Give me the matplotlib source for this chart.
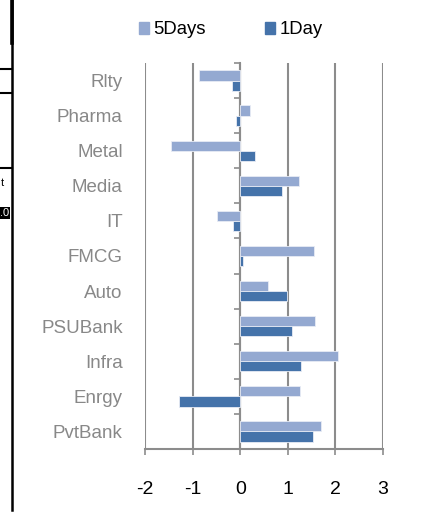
import matplotlib
matplotlib.use("Agg")
import matplotlib.pyplot as plt
from matplotlib.lines import Line2D
from matplotlib.patches import Patch
import numpy as np

# sector names, top to bottom as shown
sectors = ['Rlty', 'Pharma', 'Metal', 'Media', 'IT', 'FMCG', 'Auto',
           'PSUBank', 'Infra', 'Enrgy', 'PvtBank']
five_days = [-0.86, 0.20, -1.45, 1.24, -0.48, 1.55, 0.58, 1.57, 2.05, 1.25, 1.69]
one_day = [-0.17, -0.09, 0.31, 0.87, -0.15, 0.06, 0.99, 1.08, 1.28, -1.28, 1.52]
x_ticks = [-2, -1, 0, 1, 2, 3]

c5 = '#94A9D1'
c1 = '#4573AA'
grid_c = '#8C8C8C'

plt.rcParams['font.family'] = ['Liberation Sans', 'DejaVu Sans']

W, H = 425, 512
fig = plt.figure(figsize=(W / 100, H / 100), dpi=100)
ax = fig.add_axes([145 / W, 1 - 449 / H, (383 - 145) / W, (449 - 63) / H])

n = len(sectors)
ypos = np.arange(n)[::-1]  # first sector on top
bh = 0.29
ax.barh(ypos + bh / 2, five_days, height=bh, color=c5, edgecolor='#E8ECF5', linewidth=0.6, zorder=3)
ax.barh(ypos - bh / 2, one_day, height=bh, color=c1, edgecolor='#E8ECF5', linewidth=0.6, zorder=3)

ax.set_xlim(-2, 3)
ax.set_ylim(-0.5, n - 0.5)
ax.set_xticks(x_ticks)
ax.set_xticklabels([str(v) for v in x_ticks], fontsize=14, color='black')
ax.tick_params(axis='x', length=4, color=grid_c, width=1.2, pad=19)

ax.set_yticks(ypos)
ax.set_yticklabels(sectors, fontsize=13.5, color='#888888')
ax.tick_params(axis='y', length=0, pad=16)

ax.grid(axis='x', color=grid_c, linewidth=1.5, zorder=0)
for s in ['top', 'right']:
    ax.spines[s].set_visible(False)
ax.spines['left'].set_visible(False)
ax.spines['bottom'].set_color(grid_c)
ax.spines['bottom'].set_linewidth(1.5)

# category axis at zero with boundary tick marks
sec = ax.secondary_yaxis(2 / 5)
sec.set_yticks(np.arange(n + 1) - 0.5)
sec.set_yticklabels([])
sec.tick_params(length=4, color=grid_c, width=1.2, direction='out')
sec.spines['left'].set_color(grid_c)
sec.spines['left'].set_linewidth(1.5)

handles = [Patch(color=c5, label='5Days'), Patch(color=c1, label='1Day')]
fig.legend(handles=handles, loc='center', bbox_to_anchor=(231 / W, 1 - 30 / H), ncol=2,
           frameon=False, fontsize=13.3, handlelength=0.55, handleheight=0.55,
           handletextpad=0.25, columnspacing=3.2)

# leftover border lines of the surrounding page
def px_line(x0, y0, x1, y1, lw):
    fig.add_artist(Line2D([x0 / W, x1 / W], [1 - y0 / H, 1 - y1 / H], color='black', linewidth=lw))

px_line(12, 0, 12, 510, 1.8)
px_line(12, 0, 12, 43, 2.6)
px_line(0, 69, 12, 69, 1.5)
px_line(0, 93, 12, 93, 1.5)
px_line(0, 168, 12, 168, 1.5)
fig.text(1 / W, 1 - 183 / H, 't', fontsize=8, va='center', ha='left')
fig.text(0, 1 - 213 / H, '.0', fontsize=8, va='center', ha='left', color='white',
         bbox=dict(facecolor='black', edgecolor='none', pad=0.5))

fig.savefig('out.png', dpi=100)
